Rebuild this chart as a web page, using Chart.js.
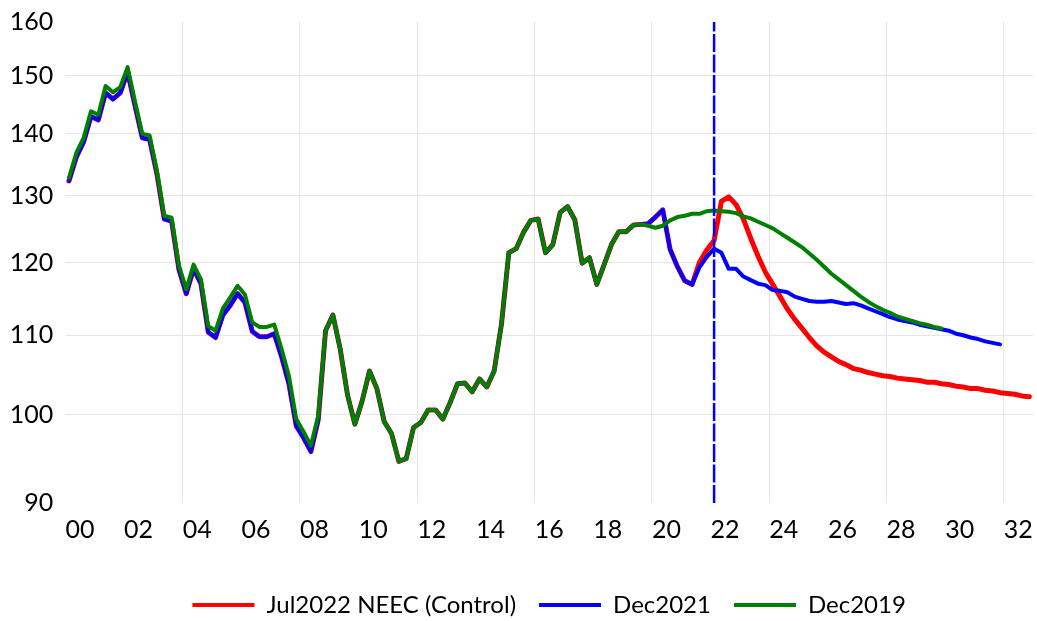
<!DOCTYPE html>
<html>
<head>
<meta charset="utf-8">
<title>Real exchange rate scenarios</title>
<script src="https://cdn.jsdelivr.net/npm/chart.js@4/dist/chart.umd.min.js"></script>
<style>
  html, body { margin: 0; padding: 0; background: #fff; }
</style>
</head>
<body>
<canvas id="chart" width="1037" height="621"></canvas>
<script>
// quarterly data, first point is 2000Q1
const startYear = 2000;

// history shared by the Jul2022 and Dec2021 vintages (2000Q1 - 2021Q2)
const actual = [
  132.3, 136.1, 138.6, 142.9, 142.3, 147.0, 145.9, 147.0, 150.7, 144.8,
  139.3, 139.0, 133.4, 126.4, 126.1, 119.0, 115.6, 119.1, 117.0, 110.4,
  109.7, 112.7, 114.0, 115.6, 114.4, 110.5, 109.8, 109.8, 110.2, 107.2,
  103.8, 98.7, 97.3, 95.7, 99.4, 110.6, 112.7, 108.2, 102.4, 98.9,
  101.7, 105.4, 103.2, 99.2, 97.8, 94.6, 94.9, 98.5, 99.1, 100.6,
  100.6, 99.5, 101.5, 103.8, 103.9, 102.8, 104.4, 103.4, 105.4, 111.5,
  121.4, 122.0, 124.4, 126.2, 126.4, 121.4, 122.6, 127.4, 128.3, 126.3,
  119.9, 120.7, 116.9, 119.7, 122.6, 124.5, 124.5, 125.5, 125.6, 125.7,
  126.7, 127.8, 121.9, 119.4, 117.4, 116.9
];

// Jul2022 NEEC (Control), 2021Q3 - 2032Q4
const neecForecast = [
  120.0, 121.8, 123.2, 129.1, 129.8, 128.6, 126.4, 123.5, 120.9, 118.6,
  116.9, 115.2, 113.5, 112.1, 110.9, 109.7, 108.6, 107.8, 107.2, 106.6,
  106.2, 105.7, 105.5, 105.2, 105.0, 104.8, 104.7, 104.5, 104.4, 104.3,
  104.2, 104.0, 104.0, 103.8, 103.7, 103.5, 103.4, 103.2, 103.2, 103.0,
  102.9, 102.7, 102.6, 102.5, 102.3, 102.2
];

// Dec2021, 2021Q3 - 2031Q4
const dec2021Forecast = [
  119.3, 120.8, 122.0, 121.4, 119.1, 119.1, 118.0, 117.5, 117.0, 116.8,
  116.1, 116.0, 115.8, 115.2, 114.9, 114.6, 114.5, 114.5, 114.6, 114.4,
  114.2, 114.3, 114.0, 113.6, 113.2, 112.8, 112.4, 112.1, 111.9, 111.7,
  111.4, 111.2, 111.0, 110.8, 110.6, 110.2, 110.0, 109.7, 109.5, 109.2,
  109.0, 108.8
];

// Dec2019, 2000Q1 - 2029Q4
const dec2019 = [
  132.8, 136.8, 139.3, 143.8, 143.2, 148.2, 147.1, 148.0, 151.6, 145.5,
  140.0, 139.7, 133.9, 126.9, 126.6, 119.6, 116.2, 119.7, 117.6, 111.2,
  110.6, 113.6, 115.1, 116.7, 115.5, 111.7, 111.1, 111.1, 111.4, 108.2,
  104.8, 99.5, 98.0, 96.4, 99.9, 110.6, 112.7, 108.2, 102.4, 98.9,
  101.7, 105.4, 103.2, 99.2, 97.8, 94.6, 94.9, 98.5, 99.1, 100.6,
  100.6, 99.5, 101.5, 103.8, 103.9, 102.8, 104.4, 103.4, 105.4, 111.5,
  121.4, 122.0, 124.4, 126.2, 126.4, 121.4, 122.6, 127.4, 128.3, 126.3,
  119.9, 120.7, 116.9, 119.7, 122.6, 124.5, 124.5, 125.5, 125.6, 125.4,
  125.1, 125.4, 126.2, 126.7, 126.9, 127.2, 127.2, 127.6, 127.7, 127.6,
  127.5, 127.3, 126.8, 126.5, 126.0, 125.5, 125.0, 124.3, 123.6, 122.9,
  122.2, 121.3, 120.4, 119.4, 118.4, 117.6, 116.8, 116.0, 115.2, 114.5,
  113.9, 113.4, 113.0, 112.5, 112.2, 111.9, 111.6, 111.4, 111.1, 110.9
];

const seriesNames = ["Jul2022 NEEC (Control)", "Dec2021", "Dec2019"];
const seriesColors = ["#ff0000", "#0000ff", "#008000"];

const yTicks = [90, 100, 110, 120, 130, 140, 150, 160];
const xLabelYears = [2000, 2002, 2004, 2006, 2008, 2010, 2012, 2014, 2016,
                     2018, 2020, 2022, 2024, 2026, 2028, 2030, 2032];
const gridYears = [2004, 2008, 2012, 2016, 2020, 2024, 2028, 2032];
const forecastMarker = "2022Q1";

// quarter index -> x position (middle of the quarter)
function quarterX(i) {
  return startYear + i / 4 + 0.125;
}
function toPoints(values) {
  return values.map((v, i) => ({ x: quarterX(i), y: v }));
}
let markerIndex = (parseInt(forecastMarker) - startYear) * 4 + parseInt(forecastMarker.slice(-1)) - 1;

let neec = actual.concat(neecForecast);
let dec2021 = actual.concat(dec2021Forecast);

// push the legend down a few pixels
const legendShift = {
  id: "legendShift",
  afterLayout(chart) {
    chart.legend.top += 6;
    chart.legend.bottom += 6;
  }
};

let ctx = document.getElementById("chart").getContext("2d");

new Chart(ctx, {
  type: "line",
  data: {
    datasets: [
      {
        label: seriesNames[0],
        data: toPoints(neec),
        borderColor: seriesColors[0],
        backgroundColor: seriesColors[0],
        borderWidth: 5,
        order: 3
      },
      {
        label: seriesNames[1],
        data: toPoints(dec2021),
        borderColor: seriesColors[1],
        backgroundColor: seriesColors[1],
        borderWidth: 4,
        order: 2
      },
      {
        label: seriesNames[2],
        data: toPoints(dec2019),
        borderColor: seriesColors[2],
        backgroundColor: seriesColors[2],
        borderWidth: 4,
        order: 1
      },
      {
        label: "marker",
        data: [{ x: quarterX(markerIndex), y: yTicks[0] }, { x: quarterX(markerIndex), y: yTicks[yTicks.length - 1] }],
        borderColor: "#0000ff",
        borderWidth: 2.5,
        borderCapStyle: "butt",
        borderDash: [18, 2.5],
        order: 0
      }
    ]
  },
  options: {
    responsive: false,
    animation: false,
    layout: { padding: { top: 22, right: 4, left: 0, bottom: 0 } },
    elements: {
      point: { radius: 0, hoverRadius: 0 },
      line: { tension: 0, borderJoinStyle: "round", borderCapStyle: "round" }
    },
    scales: {
      x: {
        type: "linear",
        min: startYear,
        max: 2033,
        afterBuildTicks: (scale) => {
          let ticks = xLabelYears.map(y => y + 0.5).concat(gridYears);
          ticks.sort((a, b) => a - b);
          scale.ticks = ticks.map(v => ({ value: v }));
        },
        afterFit: (scale) => {
          scale.height = 61;
          scale.paddingLeft = 0;
          scale.paddingRight = 0;
        },
        ticks: {
          autoSkip: false,
          maxRotation: 0,
          padding: 12,
          color: "#000",
          font: { family: "Lato", size: 25 },
          callback: (v) => Number.isInteger(v) ? "" : String(Math.floor(v) % 100).padStart(2, "0")
        },
        grid: {
          drawTicks: false,
          color: (c) => (c.tick && Number.isInteger(c.tick.value)) ? "#e6e6e6" : "rgba(0,0,0,0)"
        },
        border: { display: false }
      },
      y: {
        type: "logarithmic",
        min: yTicks[0],
        max: yTicks[yTicks.length - 1],
        afterBuildTicks: (scale) => {
          scale.ticks = yTicks.map(v => ({ value: v }));
        },
        afterFit: (scale) => {
          scale.width = 65.3;
          scale.paddingTop = 0;
          scale.paddingBottom = 0;
        },
        ticks: {
          padding: 12,
          color: "#000",
          font: { family: "Lato", size: 25 },
          callback: (v) => String(v)
        },
        grid: {
          drawTicks: false,
          color: (c) => (c.tick && c.tick.value > yTicks[0] && c.tick.value < yTicks[yTicks.length - 1]) ? "#e6e6e6" : "rgba(0,0,0,0)"
        },
        border: { display: false }
      }
    },
    plugins: {
      tooltip: { enabled: false },
      legend: {
        position: "bottom",
        fullSize: false,
        labels: {
          boxWidth: 62,
          boxHeight: 4,
          padding: 23,
          color: "#000",
          font: { family: "Lato", size: 24 },
          filter: (item) => item.datasetIndex < 3,
          sort: (a, b) => a.datasetIndex - b.datasetIndex,
          generateLabels: (chart) => Chart.defaults.plugins.legend.labels.generateLabels(chart)
            .map(l => Object.assign(l, { lineWidth: 0 }))
        }
      }
    }
  },
  plugins: [legendShift]
});
</script>
</body>
</html>
